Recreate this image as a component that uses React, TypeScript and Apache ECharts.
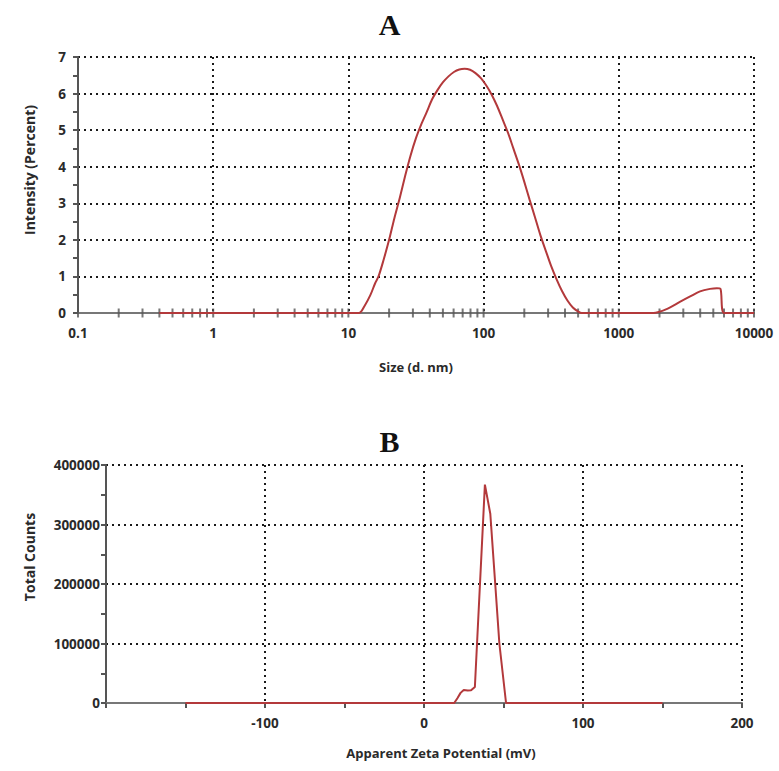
import React, { useEffect, useRef } from "react";
import * as echarts from "echarts";

// Panel A: size distribution by intensity
const sizeNm = [0.4, 1, 10, 12.0, 13.2, 14.5, 15.8, 16.7, 18.2, 20.0, 21.9, 24.0, 26.3, 28.8, 31.6, 34.7, 38.0, 41.7, 45.7, 50.1, 55.0, 60.3, 66.1, 72.4, 79.4, 87.1, 95.5, 104.7, 114.8, 125.9, 138.0, 151.4, 166.0, 182.0, 199.5, 218.8, 239.9, 263.0, 288.4, 316.2, 346.7, 380.2, 416.9, 457.1, 501.2, 531, 1000, 1800, 2300, 2850, 3400, 3990, 4730, 5310, 5650, 6010, 10000];
const intensityPct = [0, 0, 0, 0, 0.2, 0.48, 0.82, 1.0, 1.45, 2.0, 2.6, 3.15, 3.75, 4.3, 4.78, 5.17, 5.5, 5.85, 6.1, 6.31, 6.47, 6.59, 6.66, 6.68, 6.65, 6.56, 6.42, 6.22, 5.97, 5.66, 5.3, 4.93, 4.5, 4.07, 3.6, 3.1, 2.62, 2.13, 1.7, 1.28, 0.92, 0.6, 0.34, 0.15, 0.04, 0, 0, 0, 0.12, 0.31, 0.46, 0.59, 0.66, 0.68, 0.66, 0, 0];
const sizeTickDecades = [0.1, 1, 10, 100, 1000];
const sizeTickMultipliers = [1, 2, 3, 4, 5, 6, 7, 8, 9];

// Panel B: zeta potential distribution
const zetaMv = [-150, 19, 21, 23, 25, 27.5, 29.6, 32, 38.3, 41.7, 44.8, 47.4, 51.6, 150];
const totalCounts = [0, 0, 8000, 17000, 22000, 21000, 21500, 27000, 367000, 318000, 200000, 100000, 0, 0];

const RED = "#b3393b";
const AXIS = "#555";
const LABEL = "#2a2a2a";
const FONT = "'Open Sans', 'DejaVu Sans', sans-serif";

export default function App() {
  const ref = useRef<HTMLDivElement>(null);
  useEffect(() => {
    document.body.style.margin = "0";
    const chart = echarts.init(ref.current!, null, { renderer: "svg" });

    const sizeTicks: number[] = [];
    sizeTickDecades.forEach((d) => sizeTickMultipliers.forEach((m) => sizeTicks.push(+(d * m).toPrecision(6))));
    sizeTicks.push(10000);

    const gridLine = { show: true, lineStyle: { type: [2, 4] as any, color: "#1a1a1a", width: 2 } };
    const axisLine = { show: true, onZero: false, lineStyle: { color: AXIS, width: 2 } };
    const tick = { show: true, length: 5, lineStyle: { color: AXIS, width: 2 } };
    const minorTick = { show: true, splitNumber: 2, length: 5, lineStyle: { color: AXIS, width: 2 } };
    const label = { color: LABEL, fontWeight: "bold" as const, fontSize: 13.5, fontFamily: FONT };
    const xNameStyle = { color: LABEL, fontWeight: "bold" as const, fontSize: 13, fontFamily: FONT };
    const yNameStyle = { color: LABEL, fontWeight: "bold" as const, fontSize: 14, fontFamily: FONT };

    chart.setOption({
      animation: false,
      backgroundColor: "#fff",
      title: [
        { text: "A", left: "center", top: 4, textStyle: { fontFamily: "'Liberation Serif', serif", fontWeight: "bold", fontSize: 30, color: "#111" } },
        { text: "B", left: "center", top: 421, textStyle: { fontFamily: "'Liberation Serif', serif", fontWeight: "bold", fontSize: 30, color: "#111" } },
      ],
      grid: [
        { left: 78, top: 57, width: 676, height: 256 },
        { left: 106, top: 465, width: 636, height: 238 },
      ],
      xAxis: [
        {
          gridIndex: 0, type: "log", logBase: 10, min: 0.1, max: 10000,
          axisLine: { ...axisLine, lineStyle: { color: "#777", width: 2 } },
          axisTick: { show: false },
          axisLabel: { ...label, margin: 13, formatter: (v: number) => String(+(+v).toPrecision(6)) },
          splitLine: gridLine,
          name: "Size (d. nm)", nameLocation: "middle", nameGap: 47, nameTextStyle: xNameStyle,
        },
        {
          gridIndex: 1, type: "value", min: -200, max: 200, interval: 100,
          axisLine: { ...axisLine, lineStyle: { color: "#777", width: 2 } },
          axisTick: tick, minorTick,
          axisLabel: { ...label, margin: 13, formatter: (v: number) => (v === -200 ? "" : String(v)) },
          splitLine: gridLine,
          name: "Apparent Zeta Potential (mV)", nameLocation: "middle", nameGap: 43,
          nameTextStyle: { ...xNameStyle, padding: [0, 0, 0, 34] },
        },
      ],
      yAxis: [
        {
          gridIndex: 0, type: "value", min: 0, max: 7, interval: 1,
          axisLine, axisTick: tick, minorTick,
          axisLabel: { ...label, margin: 12 },
          splitLine: gridLine,
          name: "Intensity (Percent)", nameLocation: "middle", nameGap: 42,
          nameTextStyle: { ...yNameStyle, padding: [0, 0, 0, 30] },
        },
        {
          gridIndex: 1, type: "value", min: 0, max: 400000, interval: 100000,
          axisLine, axisTick: tick, minorTick,
          axisLabel: { ...label, margin: 6, formatter: (v: number) => String(v) },
          splitLine: gridLine,
          name: "Total Counts", nameLocation: "middle", nameGap: 70,
          nameTextStyle: { ...yNameStyle, padding: [0, 0, 0, 54] },
        },
      ],
      series: [
        {
          type: "scatter", xAxisIndex: 0, yAxisIndex: 0, silent: true, z: 2,
          symbol: "rect", symbolSize: [2, 9], itemStyle: { color: AXIS },
          data: sizeTicks.map((v) => [v, 0]),
        },
        {
          type: "line", xAxisIndex: 0, yAxisIndex: 0, z: 3, showSymbol: false, smooth: 0.3,
          lineStyle: { color: RED, width: 2 },
          data: sizeNm.map((s, i) => [s, intensityPct[i]]),
        },
        {
          type: "line", xAxisIndex: 1, yAxisIndex: 1, z: 3, showSymbol: false,
          lineStyle: { color: RED, width: 2 },
          data: zetaMv.map((z, i) => [z, totalCounts[i]]),
        },
      ],
    });
    return () => chart.dispose();
  }, []);
  return <div ref={ref} style={{ width: 779, height: 771 }} />;
}
